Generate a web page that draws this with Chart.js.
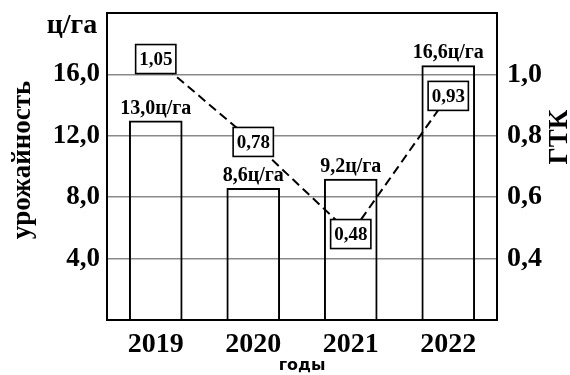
<!DOCTYPE html>
<html lang="ru">
<head>
<meta charset="utf-8">
<script src="https://cdn.jsdelivr.net/npm/chart.js@4.4.1/dist/chart.umd.min.js"></script>
<style>
  html, body { margin: 0; padding: 0; background: #fff; }
  #wrap { width: 570px; height: 375px; }
</style>
</head>
<body>
<div id="wrap"><canvas id="myChart" width="570" height="375"></canvas></div>
<script>
const years = ['2019', '2020', '2021', '2022'];
const yieldValues = [13.0, 8.6, 9.2, 16.6];
const gtkValues = [1.05, 0.78, 0.48, 0.93];
const yieldTicks = [4, 8, 12, 16];
const gtkTicks = [0.4, 0.6, 0.8, 1.0];

const SERIF = '"Liberation Serif", "Times New Roman", serif';

function comma(v, digits) {
    return v.toFixed(digits).replace('.', ',');
}

function nearTick(v, list) {
    return list.some(t => Math.abs(t - v) < 1e-6);
}

// frame, value labels, boxed GTK labels and axis titles
const decorPlugin = {
    id: 'decor',
    afterDatasetsDraw(chart) {
        const ctx = chart.ctx;
        const area = chart.chartArea;
        ctx.save();

        // bar value labels
        const barMeta = chart.getDatasetMeta(0);
        ctx.fillStyle = '#000';
        ctx.font = 'bold 20px ' + SERIF;
        ctx.textAlign = 'center';
        ctx.textBaseline = 'middle';
        barMeta.data.forEach((bar, i) => {
            ctx.fillText(comma(yieldValues[i], 1) + 'ц/га', bar.x, bar.y - 12);
        });

        // GTK boxes
        const lineMeta = chart.getDatasetMeta(1);
        ctx.font = 'bold 19px ' + SERIF;
        ctx.lineWidth = 1.6;
        ctx.strokeStyle = '#000';
        lineMeta.data.forEach((pt, i) => {
            const text = comma(gtkValues[i], 2);
            const w = ctx.measureText(text).width + 7;
            const h = 29;
            ctx.fillStyle = '#fff';
            ctx.fillRect(pt.x - w / 2, pt.y - h / 2, w, h);
            ctx.strokeRect(pt.x - w / 2, pt.y - h / 2, w, h);
            ctx.fillStyle = '#000';
            ctx.fillText(text, pt.x, pt.y + 1);
        });

        // plot frame
        ctx.lineWidth = 2;
        ctx.strokeRect(area.left, area.top, area.right - area.left, area.bottom - area.top);

        // titles
        ctx.fillStyle = '#000';
        ctx.font = 'bold 28px ' + SERIF;
        ctx.textAlign = 'center';
        ctx.fillText('ц/га', 72, 26);

        ctx.font = 'bold 16px "DejaVu Sans", sans-serif';
        ctx.fillText('годы', 302, 366);

        ctx.save();
        ctx.translate(23, 160);
        ctx.rotate(-Math.PI / 2);
        ctx.font = 'bold 27px ' + SERIF;
        ctx.fillText('урожайность', 0, 0);
        ctx.restore();

        ctx.save();
        ctx.translate(560, 137);
        ctx.rotate(-Math.PI / 2);
        ctx.font = 'bold 27px ' + SERIF;
        ctx.fillText('ГТК', 0, 0);
        ctx.restore();

        ctx.restore();
    }
};

const ctx = document.getElementById('myChart').getContext('2d');
const myChart = new Chart(ctx, {
    data: {
        labels: years,
        datasets: [{
            type: 'bar',
            label: 'урожайность',
            data: yieldValues,
            yAxisID: 'y',
            backgroundColor: 'rgba(255,255,255,0)',
            borderColor: '#000',
            borderWidth: 2,
            barPercentage: 0.55,
            categoryPercentage: 1,
            order: 2
        }, {
            type: 'line',
            label: 'ГТК',
            data: gtkValues,
            yAxisID: 'y2',
            borderColor: '#000',
            borderWidth: 2,
            borderDash: [9, 5],
            pointRadius: 0,
            tension: 0,
            order: 1
        }]
    },
    options: {
        responsive: false,
        animation: false,
        layout: { padding: 0 },
        plugins: {
            legend: { display: false },
            tooltip: { enabled: false }
        },
        scales: {
            x: {
                grid: { display: false, drawTicks: false },
                border: { display: false },
                ticks: {
                    color: '#000',
                    padding: 8,
                    font: { family: SERIF, size: 28, weight: 'bold' }
                },
                afterFit(scale) { scale.height = 55; }
            },
            y: {
                position: 'left',
                min: 0,
                max: 20,
                grid: {
                    drawTicks: false,
                    lineWidth: 1.5,
                    color: c => nearTick(c.tick.value, yieldTicks) ? '#8a8a8a' : 'rgba(0,0,0,0)'
                },
                border: { display: false },
                ticks: {
                    stepSize: 4,
                    color: '#000',
                    padding: 7,
                    font: { family: SERIF, size: 27, weight: 'bold' },
                    callback: v => nearTick(v, yieldTicks) ? comma(v, 1) : ''
                },
                afterFit(scale) {
                    scale.width = 107;
                    scale.paddingTop = 13;
                }
            },
            y2: {
                position: 'right',
                min: 0.2,
                max: 1.2,
                grid: { display: false, drawTicks: false },
                border: { display: false },
                ticks: {
                    stepSize: 0.2,
                    color: '#000',
                    padding: 10,
                    font: { family: SERIF, size: 28, weight: 'bold' },
                    callback: v => nearTick(v, gtkTicks) ? comma(v, 1) : ''
                },
                afterFit(scale) {
                    scale.width = 73;
                    scale.paddingTop = 13;
                }
            }
        }
    },
    plugins: [decorPlugin]
});
</script>
</body>
</html>
